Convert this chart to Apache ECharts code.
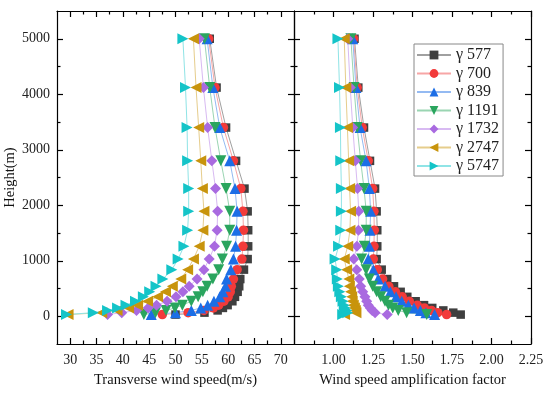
<!DOCTYPE html>
<html>
<head>
<meta charset="utf-8">
<script src="https://cdn.jsdelivr.net/npm/echarts@6/dist/echarts.min.js"></script>
<style>html,body{margin:0;padding:0;background:#fff}#c{width:550px;height:393px}</style>
</head>
<body>
<div id="c"></div>
<script>
// ---- data ----
const heights = [30,65,105,150,200,270,350,440,540,670,840,1030,1260,1550,1890,2300,2800,3400,4120,5000];
const seriesNames = ['γ 577','γ 700','γ 839','γ 1191','γ 1732','γ 2747','γ 5747'];

const speed577  = [50.0,55.5,58.0,59.0,59.9,60.8,61.3,61.8,62.1,62.3,63.0,63.7,63.8,63.8,63.7,63.1,61.5,59.6,57.8,56.5];
const speed700  = [47.5,52.4,55.4,57.2,58.2,59.2,60.0,60.4,60.6,61.0,61.7,62.6,62.8,62.9,62.8,62.4,61.0,59.1,57.5,56.3];
const speed839  = [45.4,50.0,53.0,54.8,56.1,57.3,58.4,59.0,59.5,59.7,60.5,61.0,61.4,61.6,61.7,61.3,60.3,58.4,57.1,56.0];
const speed1191 = [44.0,46.2,48.2,49.9,51.3,53.0,54.3,55.2,56.0,57.1,58.2,58.9,59.7,60.3,60.3,59.6,58.6,57.5,56.5,55.5];
const speed1732 = [37.1,39.8,42.6,44.8,46.4,48.4,50.1,51.4,52.6,54.1,55.4,56.4,57.4,57.9,58.0,57.6,56.9,56.1,55.3,54.5];
const speed2747 = [29.6,36.0,38.9,41.1,42.8,44.7,46.6,48.1,49.4,51.0,52.3,53.4,54.5,55.2,55.4,55.1,54.8,54.4,53.9,53.4];
const speed5747 = [29.3,34.4,37.1,39.0,40.6,42.4,43.9,45.1,46.3,47.6,49.3,50.5,51.6,52.3,52.5,52.5,52.3,52.2,51.9,51.4];

const factor577  = [1.805,1.758,1.695,1.625,1.573,1.52,1.467,1.425,1.383,1.34,1.305,1.273,1.277,1.277,1.273,1.263,1.231,1.193,1.157,1.133];
const factor700  = [1.716,1.66,1.62,1.575,1.53,1.48,1.435,1.392,1.35,1.311,1.277,1.252,1.256,1.258,1.256,1.248,1.22,1.182,1.15,1.128];
const factor839  = [1.64,1.585,1.55,1.51,1.474,1.432,1.396,1.36,1.326,1.283,1.252,1.22,1.227,1.231,1.235,1.227,1.206,1.168,1.142,1.122];
const factor1191 = [1.59,1.463,1.41,1.375,1.348,1.326,1.299,1.273,1.248,1.227,1.206,1.178,1.195,1.207,1.207,1.193,1.172,1.15,1.13,1.11];
const factor1732 = [1.34,1.263,1.245,1.233,1.22,1.21,1.199,1.185,1.172,1.163,1.147,1.128,1.148,1.158,1.16,1.152,1.138,1.122,1.106,1.09];
const factor2747 = [1.07,1.142,1.138,1.132,1.125,1.118,1.115,1.108,1.10,1.097,1.083,1.068,1.09,1.104,1.108,1.102,1.096,1.088,1.078,1.068];
const factor5747 = [1.058,1.09,1.085,1.075,1.068,1.06,1.05,1.04,1.031,1.024,1.02,1.01,1.032,1.046,1.05,1.05,1.046,1.044,1.038,1.028];

const speedTicks  = [30,35,40,45,50,55,60,65,70];
const speedMinor  = [32.5,37.5,42.5,47.5,52.5,57.5,62.5,67.5];
const factorTicks = [1.00,1.25,1.50,1.75,2.00,2.25];
const factorMinor = [0.875,1.125,1.375,1.625,1.875,2.125];
const heightTicks = [0,1000,2000,3000,4000,5000];
const heightMinor = [500,1500,2500,3500,4500];

// ---- styles ----
const SERIF = 'Liberation Serif';
const speeds  = [speed577,speed700,speed839,speed1191,speed1732,speed2747,speed5747];
const factors = [factor577,factor700,factor839,factor1191,factor1732,factor2747,factor5747];
const markerColors = ['#3f3f3f','#f23a3a','#1c6ee6','#2aa55e','#a96ae0','#c8940c','#14c4c8'];
const lineColors   = ['#a0a0a0','#f7a6a6','#94baf2','#9ad5b2','#d8baf2','#e6cd8c','#90e4e6'];
const symbols  = ['rect','circle','triangle','triangle','diamond','triangle','triangle'];
const symSizes = [8.5,9.5,11,11,11,11,11];
const symRot   = [0,0,0,180,0,90,-90];

function lineAx(show) { return {show:show, onZero:false, lineStyle:{color:'#000', width:1.2}}; }
function axisSet(kind, grid, min, max, majors, minors, opts) {
  const axes = [];
  const posA = kind === 'x' ? 'bottom' : 'left';
  const posB = kind === 'x' ? 'top' : 'right';
  const tickStyle = {color:'#000', width:1.2};
  axes.push(Object.assign({
    type:'value', gridIndex:grid, min:min, max:max, position:posA,
    axisLine:lineAx(true), splitLine:{show:false},
    axisTick:{show:true, inside:true, length:6, customValues:majors, lineStyle:tickStyle},
    axisLabel:{show:false}
  }, opts || {}));
  axes.push({type:'value', gridIndex:grid, min:min, max:max, position:posA,
    axisLine:lineAx(false), splitLine:{show:false},
    axisTick:{show:true, inside:true, length:3.5, customValues:minors, lineStyle:tickStyle},
    axisLabel:{show:false}});
  axes.push({type:'value', gridIndex:grid, min:min, max:max, position:posB,
    axisLine:lineAx(true), splitLine:{show:false},
    axisTick:{show:true, inside:true, length:6, customValues:majors, lineStyle:tickStyle},
    axisLabel:{show:false}});
  axes.push({type:'value', gridIndex:grid, min:min, max:max, position:posB,
    axisLine:lineAx(false), splitLine:{show:false},
    axisTick:{show:true, inside:true, length:3.5, customValues:minors, lineStyle:tickStyle},
    axisLabel:{show:false}});
  return axes;
}
const labelStyle = {fontFamily:SERIF, fontSize:14, color:'#222'};
const nameStyle = {fontFamily:SERIF, fontSize:14.5, color:'#111'};

const xAxes = [].concat(
  axisSet('x', 0, 27.5, 72.5, speedTicks, speedMinor, {
    name:'Transverse wind speed(m/s)', nameLocation:'middle', nameGap:29, nameTextStyle:nameStyle,
    axisLabel:Object.assign({show:true, margin:9, customValues:speedTicks, formatter:v=>String(v)}, labelStyle)
  }),
  axisSet('x', 1, 0.75, 2.25, factorTicks, factorMinor, {
    name:'Wind speed amplification factor', nameLocation:'middle', nameGap:29, nameTextStyle:nameStyle,
    axisLabel:Object.assign({show:true, margin:9, customValues:factorTicks, formatter:v=>v.toFixed(2)}, labelStyle)
  })
);
const yAxes = [].concat(
  axisSet('y', 0, -500, 5500, heightTicks, heightMinor, {
    name:'Height(m)', nameLocation:'middle', nameGap:38, nameTextStyle:nameStyle,
    axisLabel:Object.assign({show:true, margin:7, customValues:heightTicks, formatter:v=>String(v)}, labelStyle)
  }),
  axisSet('y', 1, -500, 5500, heightTicks, heightMinor, {})
);

const series = [];
for (let p = 0; p < 2; p++) {
  const src = p === 0 ? speeds : factors;
  for (let s = 0; s < 7; s++) {
    series.push({
      name: seriesNames[s], type:'line', xAxisIndex: p*4, yAxisIndex: p*4,
      data: heights.map((h,i)=>[src[s][i], h]),
      symbol: symbols[s], symbolSize: symSizes[s], symbolRotate: symRot[s],
      showAllSymbol: true,
      itemStyle:{color: markerColors[s]},
      lineStyle:{color: lineColors[s], width:1},
      emphasis:{disabled:true}, animation:false, clip:false, z: 2
    });
  }
}

const chart = echarts.init(document.getElementById('c'), null, {renderer:'canvas'});
chart.setOption({
  animation:false,
  backgroundColor:'#fff',
  grid:[
    {left:57, top:11, width:237, height:333},
    {left:294, top:11, width:237, height:333}
  ],
  legend:{
    orient:'vertical', left:414, top:44, data:seriesNames,
    backgroundColor:'#fff', borderColor:'#888', borderWidth:1,
    padding:[3,4,2,2], itemWidth:34, itemHeight:11, itemGap:2.5,
    textStyle:{fontFamily:SERIF, fontSize:16, color:'#222'}
  },
  xAxis: xAxes,
  yAxis: yAxes,
  series: series
});
</script>
</body>
</html>
